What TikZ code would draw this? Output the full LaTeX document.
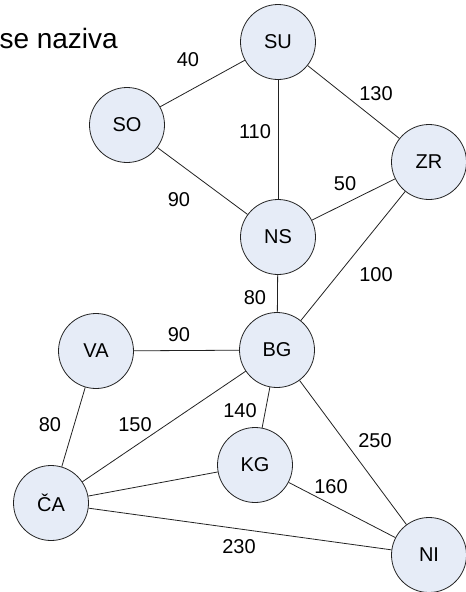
\documentclass[tikz,border=0pt]{standalone}
\usepackage{fontspec}
\setmainfont{Liberation Sans}
\definecolor{nodefill}{HTML}{E6ECF7}
\definecolor{edgecol}{HTML}{222222}
\begin{document}
\begin{tikzpicture}[x=1pt,y=-1pt,
  city/.style={circle,draw=edgecol,fill=nodefill,line width=0.8pt,minimum size=75pt,inner sep=0pt,font=\fontsize{20}{22}\selectfont},
  road/.style={draw=edgecol,line width=0.8pt},
  dist/.style={font=\fontsize{20}{22}\selectfont,inner sep=0pt}]
\useasboundingbox (0,0) rectangle (466,592);
% cities
\node[city] (SU) at (278,42) {SU};
\node[city] (SO) at (127,125) {SO};
\node[city] (ZR) at (429,162) {ZR};
\node[city] (NS) at (278,237) {NS};
\node[city] (BG) at (277,350) {BG};
\node[city] (VA) at (96,351) {VA};
\node[city] (CA) at (51,503) {ČA};
\node[city] (KG) at (255,465) {KG};
\node[city] (NI) at (429,555) {NI};
% roads
\draw[road] (SU) -- (SO);
\draw[road] (SU) -- (NS);
\draw[road] (SU) -- (ZR);
\draw[road] (SO) -- (NS);
\draw[road] (NS) -- (ZR);
\draw[road] (NS) -- (BG);
\draw[road] (ZR) -- (BG);
\draw[road] (VA) -- (BG);
\draw[road] (VA) -- (CA);
\draw[road] (BG) -- (CA);
\draw[road] (BG) -- (KG);
\draw[road] (BG) -- (NI);
\draw[road] (KG) -- (CA);
\draw[road] (KG) -- (NI);
\draw[road] (CA) -- (NI);
% distances
\node[dist] (d1) at (188,60) {40};
\node[dist] (d2) at (376,94) {130};
\node[dist] (d3) at (255,132) {110};
\node[dist] (d4) at (179,200) {90};
\node[dist] (d5) at (345,184) {50};
\node[dist] (d6) at (376,275) {100};
\node[dist] (d7) at (255,298) {80};
\node[dist] (d8) at (179,335) {90};
\node[dist] (d9) at (50,425) {80};
\node[dist] (d10) at (135,425) {150};
\node[dist] (d11) at (240,411) {140};
\node[dist] (d12) at (375,441) {250};
\node[dist] (d13) at (331,487) {160};
\node[dist] (d14) at (239,547) {230};
% heading fragment
\node[anchor=base east,inner sep=0pt,font=\fontsize{28}{30}\selectfont] (title) at (118,48) {se naziva};
\end{tikzpicture}
\end{document}
